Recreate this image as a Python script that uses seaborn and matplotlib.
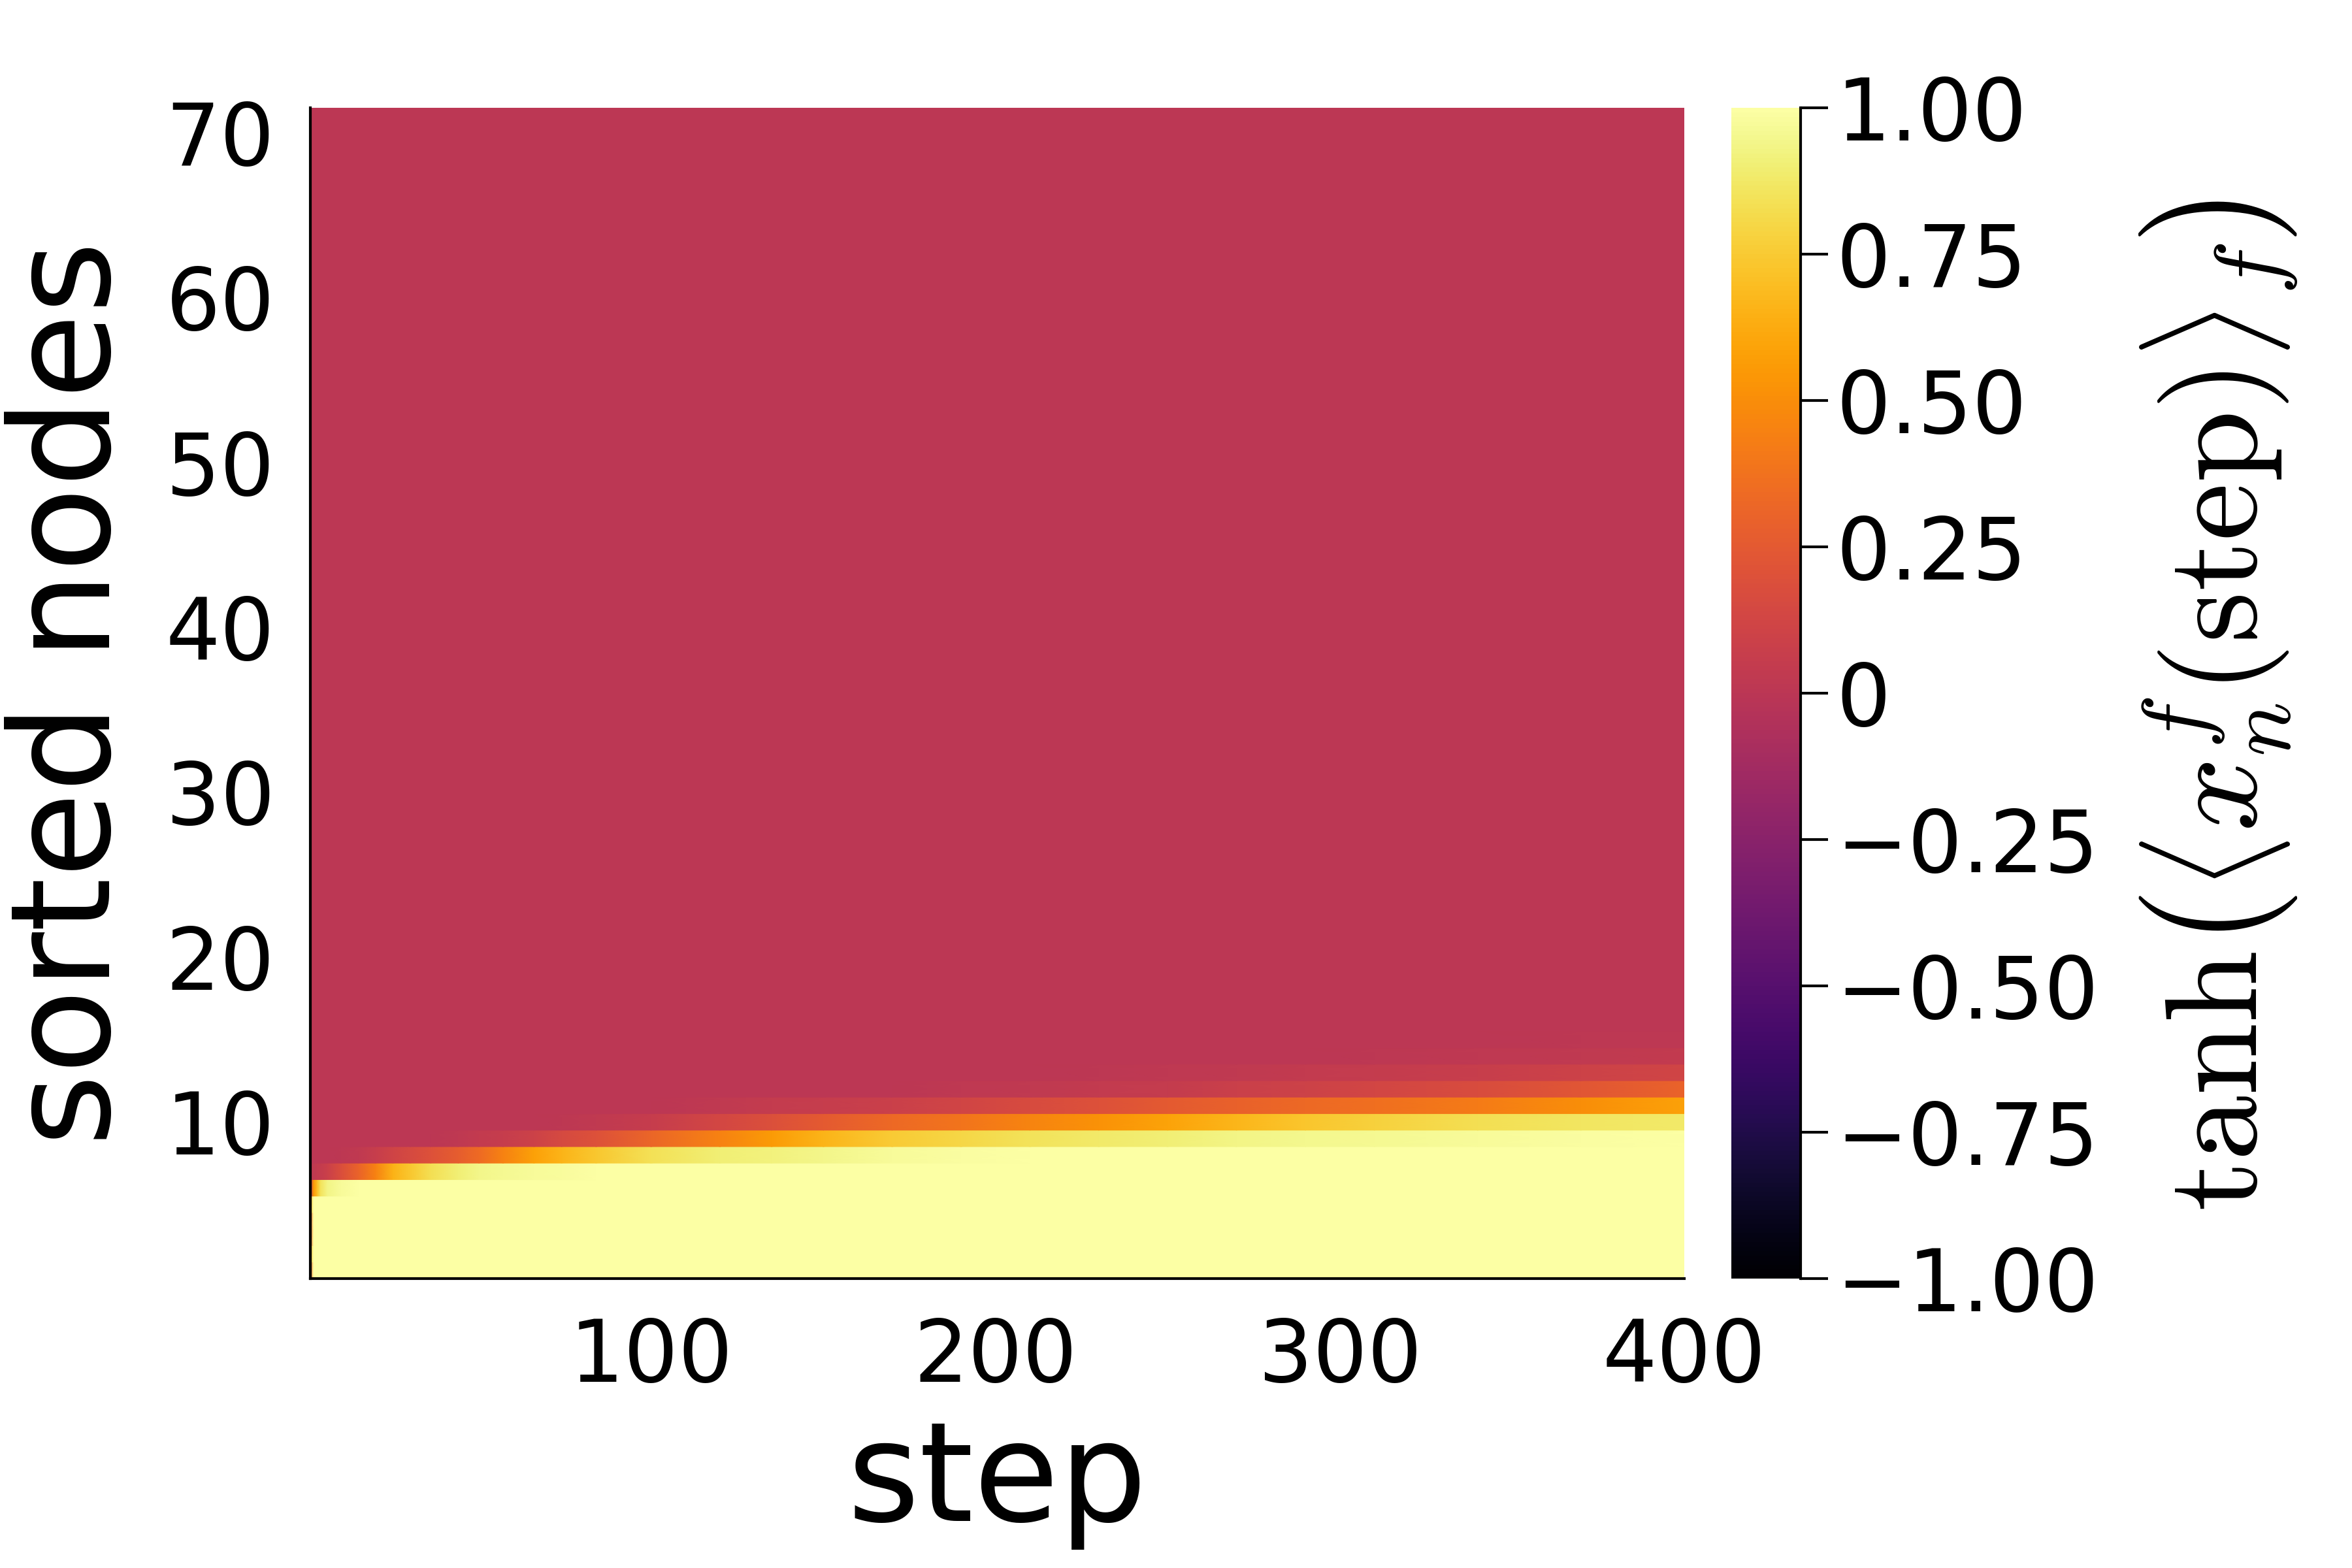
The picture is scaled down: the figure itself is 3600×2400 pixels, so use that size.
import seaborn as sns
import matplotlib
matplotlib.use('Agg')
import matplotlib.pyplot as plt
import numpy as np

step_pts = [1, 2, 3, 4, 6, 10, 15, 20, 25, 30, 36, 44, 50, 57, 66, 74, 84, 100,
            120, 135, 150, 170, 190, 210, 230, 250, 270, 290, 310, 340, 370, 400]

n_nodes = 71

# nodes 1-5: only the first step differs, the rest sits at 1
first_step_vals = [0.36, 0.74, 0.36, 0.36, 0.74]

node6 = [0.00, 0.55, 0.70, 0.85, 0.93, 0.97] + [1.00] * 26
node7 = [0.02, 0.03, 0.04, 0.05, 0.08, 0.18, 0.30, 0.45, 0.65, 0.74, 0.83, 0.90,
         0.94, 0.96, 0.97, 0.98] + [1.00] * 16
node8 = [0.00] * 5 + [0.01, 0.03, 0.07, 0.11, 0.15, 0.20, 0.27, 0.34, 0.45, 0.58,
                      0.66, 0.74, 0.84, 0.90, 0.92, 0.94, 0.97, 0.99] + [1.00] * 9
node9 = [0.00] * 11 + [0.02, 0.04, 0.06, 0.10, 0.15, 0.20, 0.32, 0.45, 0.56, 0.66,
                       0.75, 0.80, 0.85, 0.88, 0.90, 0.93, 0.95, 0.96, 0.97, 0.99, 1.00]
node10 = [0.00] * 15 + [0.01, 0.03, 0.06, 0.14, 0.19, 0.25, 0.33, 0.39, 0.46, 0.52,
                        0.59, 0.67, 0.73, 0.78, 0.83, 0.86, 0.88]
node11 = [0.00] * 18 + [0.03, 0.05, 0.06, 0.08, 0.12, 0.16, 0.20, 0.25, 0.29, 0.33,
                        0.36, 0.42, 0.50, 0.58]
node12 = [0.00] * 22 + [0.02, 0.03, 0.04, 0.05, 0.08, 0.10, 0.13, 0.17, 0.23, 0.30]
node13 = [0.00] * 24 + [0.01, 0.02, 0.03, 0.04, 0.05, 0.07, 0.10, 0.12]
node14 = [0.00] * 28 + [0.01, 0.02, 0.03, 0.04]
node15 = [0.00] * 30 + [0.01, 0.015]

xticks = [100, 200, 300, 400]
yticks = [10, 20, 30, 40, 50, 60, 70]
cbar_ticks = [-1.0, -0.75, -0.5, -0.25, 0.0, 0.25, 0.5, 0.75, 1.0]
cbar_labels = ['\u22121.00', '\u22120.75', '\u22120.50', '\u22120.25', '0',
               '0.25', '0.50', '0.75', '1.00']

# assemble the node x step table
rows = [[v] + [1.00] * (len(step_pts) - 1) for v in first_step_vals]
rows += [node6, node7, node8, node9, node10, node11, node12, node13, node14, node15]
rows += [[0.00] * len(step_pts) for _ in range(n_nodes - len(rows))]
vals = np.array(rows)

# each node is a flat band: duplicate the row at its lower and upper edge
nodes = np.arange(1, n_nodes + 1)
y_edges = np.column_stack([nodes - 0.5, nodes + 0.5]).ravel()
z = np.repeat(vals, 2, axis=0)

sns.set_style('white')
plt.rcParams['font.family'] = ['DejaVu Sans']
plt.rcParams['mathtext.fontset'] = 'cm'
plt.rcParams['text.color'] = 'black'
plt.rcParams['axes.labelcolor'] = 'black'

fig = plt.figure(figsize=(12, 8), dpi=300)
ax = fig.add_axes([0.1319, 0.1846, 0.5842, 0.7467])
cax = fig.add_axes([0.7361, 0.1846, 0.0295, 0.7467])

cmap = sns.color_palette('inferno', as_cmap=True)
mesh = ax.pcolormesh(step_pts, y_edges, z, shading='gouraud', cmap=cmap,
                     vmin=-1, vmax=1, rasterized=True)

ax.set_xlim(1, 400)
ax.set_ylim(0.5, n_nodes + 0.5)
ax.set_xticks(xticks)
ax.set_yticks(yticks)
ax.tick_params(axis='both', length=0, labelsize=31.5, colors='black')
ax.tick_params(axis='x', pad=14)
ax.tick_params(axis='y', pad=13)
for side in ['top', 'right']:
    ax.spines[side].set_visible(False)
for side in ['left', 'bottom']:
    ax.spines[side].set_color('black')
    ax.spines[side].set_linewidth(1.0)
ax.set_xlabel('step', fontsize=51, labelpad=6)
ax.set_ylabel('sorted nodes', fontsize=51, labelpad=10)

cb = fig.colorbar(mesh, cax=cax, ticks=cbar_ticks)
cb.outline.set_visible(False)
cb.ax.set_yticklabels(cbar_labels)
cax.spines['right'].set_visible(True)
cax.spines['right'].set_color('black')
cax.spines['right'].set_linewidth(1.0)
cax.tick_params(axis='y', direction='out', length=10, width=1.0, pad=3,
                labelsize=31.5, colors='black')

fig.text(0.9435, 0.55,
         r'$\mathrm{tanh}\left(\left\langle x_n^f(\mathrm{step})\right\rangle_f\right)$',
         rotation=90, ha='center', va='center', fontsize=48)

fig.savefig('out.png', dpi=300, facecolor='white')
